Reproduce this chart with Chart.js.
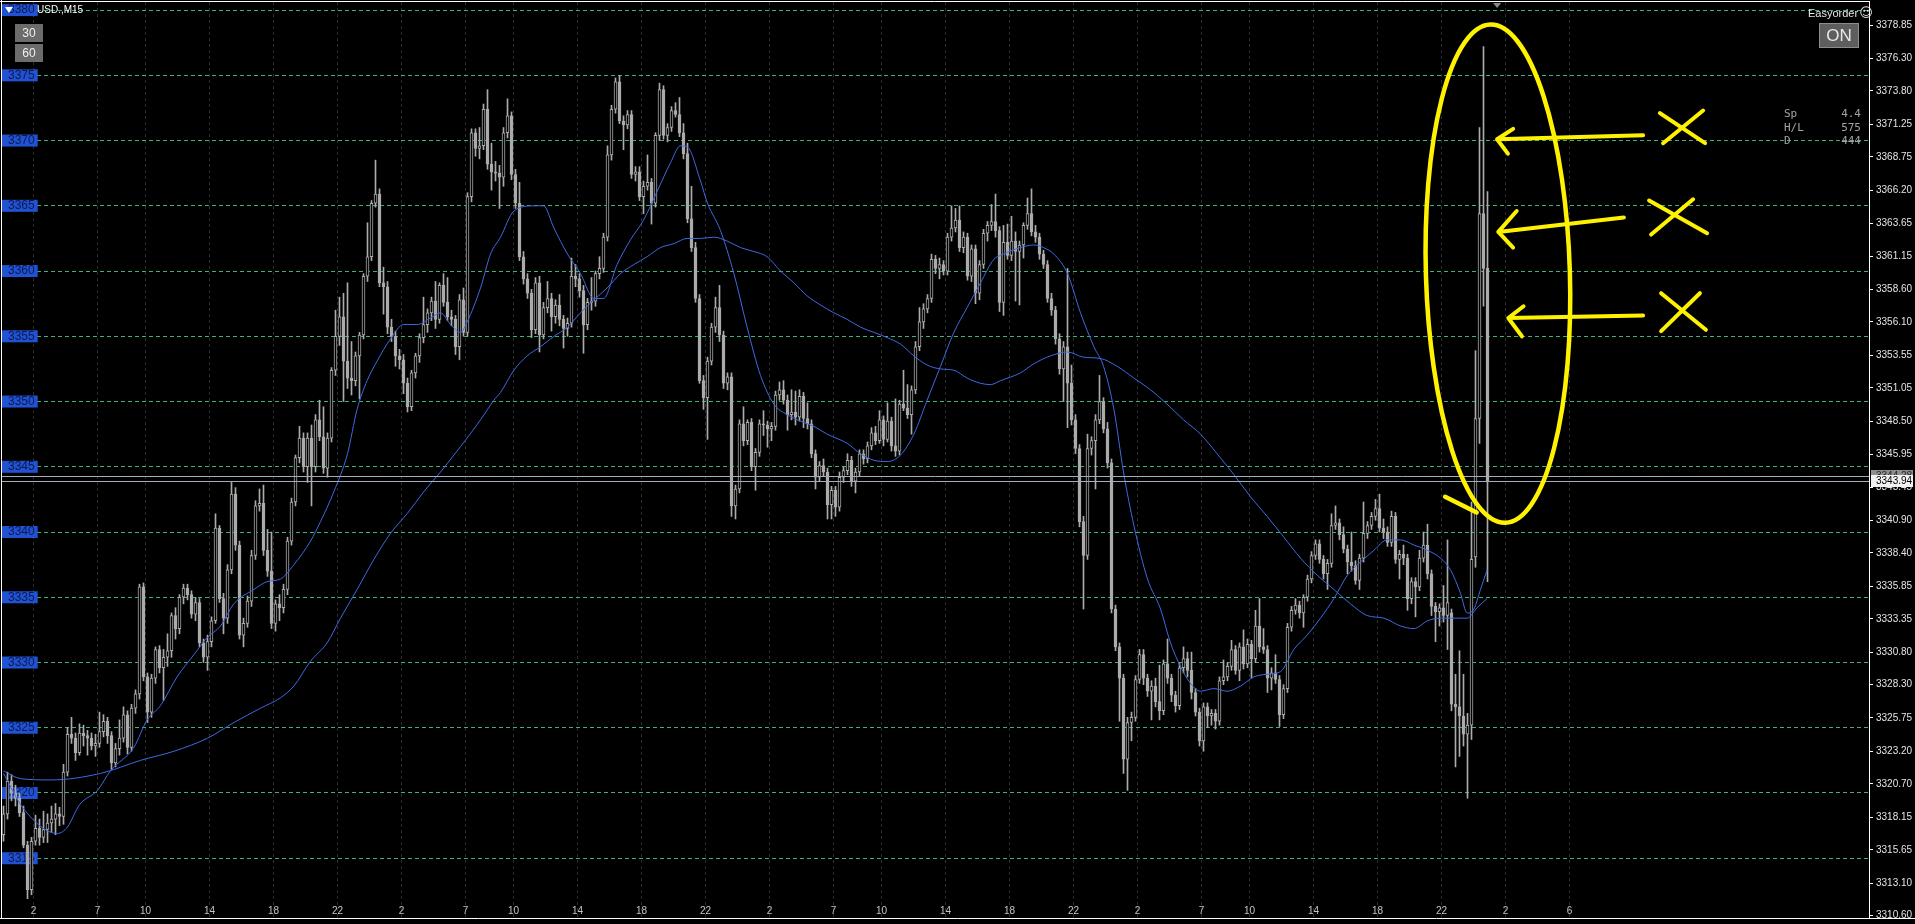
<!DOCTYPE html>
<html>
<head>
<meta charset="utf-8">
<script src="https://cdn.jsdelivr.net/npm/chart.js@4.4.1/dist/chart.umd.min.js"></script>
<style>
  html, body { margin: 0; padding: 0; background: #000; overflow: hidden; }
  #wrap { position: relative; width: 1915px; height: 924px; }
  #wrap canvas { position: absolute; left: 0; top: 0; }
  .txt { position: absolute; font-family: 'Liberation Sans', Arial, sans-serif; white-space: nowrap; }
  .btn { position: absolute; width: 28px; height: 18px; background: #6c6c6c; color: #f0f0f0;
         font: 12px 'Liberation Sans', Arial, sans-serif; line-height: 18px; text-align: center; }
  .on { position: absolute; left: 1819px; top: 23px; width: 38px; height: 23px; background: #5e5e5e;
        border: 1px solid #8c8c8c; color: #e8e8e8; font: 17px 'Liberation Sans', Arial, sans-serif;
        line-height: 23px; text-align: center; }
  .info { position: absolute; left: 1784px; top: 107px; width: 77px; color: #a4a4a4;
          font: 11px 'DejaVu Sans Mono', monospace; line-height: 13.5px; }
  .info div { display: flex; justify-content: space-between; }
</style>
</head>
<body>
<div id="wrap">
  <canvas id="chart"></canvas>
  <div class="txt" style="left:37px;top:4px;font-size:10px;color:#fff">USD.,M15</div>
  <div class="btn" style="left:15px;top:24px">30</div>
  <div class="btn" style="left:15px;top:44px">60</div>
  <div class="txt" style="left:1808px;top:5px;font-size:11px;color:#e6e6e6">Easyorder<span style="font-family:'DejaVu Sans';font-size:13px;margin-left:1px">☺</span></div>
  <div class="on">ON</div>
  <div class="info">
    <div><span>Sp</span><span>4.4</span></div>
    <div><span>H/L</span><span>575</span></div>
    <div><span>D</span><span>444</span></div>
  </div>
</div>
<script>
// M15 candles, one entry per bar (bar 0 = leftmost)
const opens = [
  3316.8, 3318.4, 3320.9, 3320.0, 3319.6, 3318.5, 3316.0, 3312.6, 3316.3, 3317.3,
  3316.6, 3317.2, 3317.7, 3318.0, 3318.4, 3318.2, 3321.6, 3324.5, 3324.2, 3323.1,
  3324.6, 3324.4, 3324.2, 3323.6, 3323.8, 3324.7, 3325.5, 3324.4, 3322.3, 3323.4,
  3324.2, 3326.0, 3323.5, 3326.5, 3327.6, 3335.8, 3328.9, 3326.2, 3328.8, 3331.0,
  3329.6, 3330.4, 3330.9, 3333.6, 3332.6, 3335.0, 3335.7, 3335.2, 3333.7, 3334.6,
  3331.5, 3330.4, 3331.6, 3333.2, 3340.3, 3334.9, 3333.4, 3337.1, 3342.9, 3339.0,
  3332.1, 3333.0, 3334.7, 3338.2, 3342.0, 3342.2, 3338.6, 3337.0, 3333.0, 3334.5,
  3334.2, 3335.6, 3339.3, 3342.3, 3345.7, 3347.2, 3345.0, 3347.2, 3345.0, 3348.6,
  3347.3, 3344.9, 3347.2, 3352.4, 3355.0, 3356.5, 3353.1, 3351.8, 3351.6, 3353.5,
  3355.1, 3359.6, 3361.1, 3365.2, 3365.9, 3359.1, 3358.8, 3355.7, 3355.0, 3353.5,
  3353.2, 3351.4, 3349.6, 3352.2, 3353.5, 3354.9, 3355.9, 3356.8, 3357.7, 3356.3,
  3358.9, 3357.6, 3356.5, 3356.3, 3354.2, 3357.8, 3355.3, 3365.7, 3370.6, 3369.4,
  3369.6, 3372.4, 3368.2, 3367.6, 3367.5, 3367.2, 3370.6, 3371.9, 3367.4, 3365.2,
  3361.1, 3359.4, 3358.3, 3355.5, 3359.1, 3355.1, 3357.2, 3357.9, 3356.5, 3357.4,
  3356.3, 3355.6, 3356.0, 3359.6, 3359.4, 3358.5, 3355.9, 3357.6, 3357.7, 3359.8,
  3360.2, 3362.6, 3368.9, 3372.4, 3374.5, 3371.5, 3371.2, 3372.0, 3367.4, 3367.6,
  3365.7, 3366.5, 3366.8, 3365.2, 3370.4, 3373.9, 3370.4, 3371.0, 3372.3, 3372.0,
  3370.6, 3369.0, 3364.0, 3361.8, 3357.9, 3351.6, 3350.3, 3353.1, 3355.7, 3357.2,
  3355.1, 3351.4, 3351.9, 3342.0, 3343.3, 3348.3, 3347.0, 3348.4, 3345.0, 3346.1,
  3348.3, 3348.2, 3347.9, 3348.1, 3350.5, 3350.9, 3350.1, 3349.0, 3349.2, 3348.8,
  3350.4, 3348.7, 3348.3, 3346.0, 3344.2, 3345.1, 3344.6, 3342.1, 3343.2, 3341.9,
  3344.2, 3344.7, 3345.5, 3343.9, 3344.6, 3346.0, 3345.6, 3346.6, 3347.6, 3347.0,
  3348.6, 3347.1, 3348.5, 3346.6, 3346.2, 3349.8, 3349.5, 3349.0, 3350.9, 3354.2,
  3356.1, 3357.1, 3357.9, 3360.9, 3360.2, 3360.5, 3360.0, 3362.6, 3363.3, 3363.9,
  3361.8, 3362.6, 3359.6, 3361.7, 3358.3, 3360.5, 3362.9, 3363.5, 3363.8, 3363.1,
  3357.6, 3362.2, 3361.2, 3362.3, 3361.5, 3362.0, 3363.5, 3364.4, 3363.0, 3362.6,
  3361.3, 3360.5, 3357.9, 3357.0, 3354.8, 3352.5, 3354.2, 3351.4, 3348.6, 3346.4,
  3340.8, 3338.2, 3346.4, 3347.0, 3348.6, 3350.0, 3347.9, 3345.3, 3334.1, 3331.2,
  3328.8, 3322.6, 3325.4, 3325.8, 3328.7, 3330.6, 3328.8, 3327.8, 3328.2, 3327.0,
  3326.3, 3329.9, 3328.8, 3327.5, 3326.7, 3329.6, 3330.3, 3329.4, 3327.7, 3326.2,
  3324.0, 3326.6, 3325.9, 3326.1, 3325.5, 3328.6, 3328.9, 3329.7, 3331.0, 3329.4,
  3331.2, 3329.9, 3331.4, 3330.3, 3332.8, 3331.2, 3331.0, 3328.8, 3329.2, 3328.7,
  3326.0, 3328.0, 3332.7, 3334.0, 3334.4, 3333.8, 3335.0, 3336.4, 3338.2, 3339.1,
  3337.9, 3336.8, 3337.6, 3340.5, 3340.7, 3339.8, 3338.7, 3337.7, 3337.4, 3336.3,
  3338.0, 3339.9, 3340.5, 3341.2, 3341.8, 3340.3, 3340.0, 3339.2, 3341.2, 3337.9,
  3338.3, 3338.0, 3334.9, 3336.2, 3335.8, 3338.0, 3339.0, 3336.8, 3334.3, 3333.9,
  3334.2, 3333.6, 3333.8, 3326.8, 3326.6, 3325.9, 3324.5, 3325.2, 3338.1, 3348.7,
  3364.4, 3360.2
];
const highs = [
  3319.0, 3321.6, 3321.4, 3320.6, 3320.0, 3319.0, 3316.3, 3316.6, 3318.3, 3318.0,
  3318.6, 3318.4, 3319.0, 3319.2, 3318.9, 3322.2, 3325.0, 3325.8, 3324.6, 3325.3,
  3325.2, 3324.8, 3324.6, 3324.5, 3326.2, 3326.0, 3325.8, 3324.7, 3323.8, 3325.6,
  3326.6, 3326.3, 3326.8, 3327.9, 3336.0, 3336.1, 3329.2, 3329.1, 3331.2, 3331.3,
  3331.0, 3332.2, 3333.8, 3334.2, 3335.2, 3336.0, 3336.0, 3335.5, 3335.0, 3334.9,
  3331.8, 3332.1, 3333.5, 3341.4, 3340.5, 3335.3, 3337.5, 3343.8, 3343.4, 3339.3,
  3333.4, 3335.1, 3338.6, 3342.4, 3343.3, 3343.6, 3340.2, 3340.0, 3334.8, 3335.2,
  3336.0, 3339.6, 3342.6, 3345.9, 3348.1, 3347.6, 3347.6, 3348.2, 3349.0, 3350.1,
  3349.6, 3347.6, 3352.6, 3357.0, 3358.0, 3358.3, 3359.1, 3354.6, 3353.8, 3355.3,
  3359.8, 3363.7, 3365.4, 3368.5, 3366.3, 3360.3, 3359.2, 3356.3, 3355.4, 3354.0,
  3353.6, 3351.8, 3352.4, 3353.7, 3355.2, 3358.0, 3357.1, 3358.0, 3359.2, 3359.1,
  3359.8, 3359.5, 3357.0, 3356.6, 3358.2, 3358.7, 3366.0, 3370.9, 3370.9, 3371.0,
  3372.8, 3373.9, 3369.8, 3368.4, 3368.1, 3371.0, 3373.2, 3372.2, 3367.8, 3366.8,
  3361.5, 3359.8, 3358.6, 3359.5, 3359.6, 3357.6, 3359.2, 3358.3, 3357.8, 3358.2,
  3356.6, 3356.4, 3361.0, 3360.5, 3359.8, 3358.9, 3357.9, 3359.5, 3360.0, 3361.1,
  3362.9, 3369.6, 3372.7, 3374.8, 3375.0, 3371.9, 3372.3, 3372.3, 3368.0, 3368.0,
  3366.9, 3368.9, 3367.1, 3370.6, 3374.4, 3374.2, 3371.3, 3372.6, 3372.9, 3373.3,
  3371.3, 3369.8, 3366.5, 3362.2, 3358.2, 3352.0, 3353.4, 3356.0, 3358.0, 3358.9,
  3355.4, 3352.2, 3352.2, 3343.6, 3348.6, 3349.6, 3348.6, 3348.7, 3346.4, 3348.6,
  3349.3, 3348.5, 3348.4, 3350.8, 3351.5, 3351.6, 3350.5, 3350.9, 3350.8, 3350.9,
  3350.7, 3349.9, 3348.6, 3346.3, 3345.4, 3345.6, 3344.9, 3343.5, 3343.5, 3344.6,
  3345.0, 3346.0, 3345.8, 3344.9, 3346.3, 3346.3, 3346.9, 3348.0, 3348.1, 3349.3,
  3348.9, 3349.9, 3348.8, 3350.2, 3350.1, 3352.4, 3351.3, 3351.2, 3354.6, 3357.2,
  3357.5, 3358.2, 3361.3, 3361.2, 3361.0, 3360.8, 3362.9, 3365.0, 3364.8, 3365.0,
  3363.0, 3362.9, 3362.0, 3362.0, 3360.8, 3363.2, 3363.8, 3365.1, 3365.9, 3363.4,
  3363.5, 3363.6, 3364.2, 3363.0, 3362.3, 3363.7, 3365.6, 3366.3, 3363.5, 3362.9,
  3361.6, 3360.8, 3358.3, 3357.3, 3355.2, 3354.6, 3360.2, 3352.8, 3349.0, 3346.7,
  3341.2, 3347.5, 3347.3, 3349.0, 3352.0, 3350.3, 3348.4, 3345.6, 3334.4, 3331.5,
  3329.1, 3325.8, 3326.2, 3329.0, 3331.0, 3331.0, 3329.1, 3328.6, 3328.8, 3329.8,
  3330.2, 3331.8, 3329.1, 3327.8, 3330.0, 3331.2, 3330.8, 3330.8, 3328.0, 3326.5,
  3326.9, 3326.9, 3326.4, 3326.4, 3328.9, 3330.2, 3330.0, 3331.7, 3331.3, 3331.5,
  3332.5, 3331.8, 3331.7, 3334.0, 3334.9, 3332.6, 3331.3, 3329.6, 3330.6, 3329.0,
  3328.3, 3333.0, 3334.3, 3334.9, 3334.7, 3335.2, 3336.7, 3338.5, 3339.4, 3339.4,
  3338.2, 3337.9, 3341.4, 3342.0, 3341.0, 3340.4, 3339.0, 3340.0, 3337.8, 3338.3,
  3342.3, 3340.8, 3341.5, 3342.5, 3342.9, 3341.0, 3340.4, 3341.6, 3341.5, 3338.6,
  3339.0, 3338.3, 3336.5, 3336.5, 3338.6, 3340.0, 3340.6, 3337.1, 3334.6, 3334.5,
  3335.9, 3339.4, 3334.1, 3329.1, 3330.9, 3329.1, 3326.1, 3342.3, 3353.9, 3371.0,
  3377.2, 3366.1
];
const lows = [
  3316.3, 3318.0, 3319.4, 3319.0, 3318.2, 3315.8, 3311.9, 3312.2, 3316.0, 3316.0,
  3316.2, 3316.2, 3317.0, 3316.8, 3317.5, 3317.6, 3321.3, 3323.8, 3322.5, 3322.9,
  3323.6, 3322.9, 3323.3, 3322.8, 3323.5, 3324.3, 3323.8, 3321.8, 3322.0, 3322.9,
  3323.9, 3323.0, 3323.2, 3326.1, 3327.2, 3328.6, 3325.4, 3325.8, 3328.4, 3329.2,
  3327.1, 3329.7, 3330.4, 3331.8, 3332.2, 3334.5, 3334.8, 3333.4, 3333.2, 3331.2,
  3330.0, 3329.4, 3331.2, 3333.0, 3334.6, 3332.2, 3333.0, 3336.8, 3338.6, 3331.8,
  3331.2, 3332.7, 3334.3, 3337.9, 3341.6, 3338.2, 3336.6, 3332.6, 3332.4, 3333.2,
  3333.8, 3335.2, 3339.0, 3342.0, 3345.3, 3344.6, 3343.8, 3342.0, 3344.6, 3347.0,
  3344.5, 3344.2, 3346.9, 3352.0, 3354.3, 3350.0, 3351.0, 3350.5, 3351.2, 3350.2,
  3354.8, 3359.2, 3360.8, 3364.9, 3358.8, 3356.7, 3355.2, 3354.6, 3352.7, 3352.5,
  3350.6, 3349.2, 3349.3, 3351.8, 3353.0, 3354.5, 3355.3, 3356.2, 3355.6, 3356.0,
  3357.3, 3356.2, 3355.8, 3353.6, 3353.2, 3355.0, 3355.0, 3365.3, 3368.8, 3368.6,
  3369.3, 3367.8, 3366.2, 3366.9, 3364.8, 3366.5, 3370.2, 3367.0, 3364.8, 3360.8,
  3359.0, 3357.9, 3354.9, 3355.2, 3353.8, 3354.8, 3356.8, 3355.4, 3356.0, 3355.8,
  3354.1, 3355.0, 3355.7, 3358.8, 3358.0, 3353.7, 3355.5, 3357.0, 3357.3, 3359.4,
  3359.9, 3362.3, 3368.5, 3372.1, 3371.3, 3369.3, 3370.9, 3367.1, 3366.9, 3365.4,
  3364.4, 3366.2, 3363.6, 3364.9, 3370.0, 3370.1, 3369.9, 3370.7, 3371.8, 3370.3,
  3368.6, 3363.7, 3361.5, 3357.6, 3351.4, 3349.4, 3347.1, 3352.8, 3355.3, 3354.6,
  3351.0, 3350.9, 3341.2, 3341.0, 3343.0, 3346.6, 3346.7, 3344.7, 3343.2, 3345.8,
  3347.4, 3346.5, 3347.0, 3347.8, 3350.1, 3349.8, 3347.8, 3348.6, 3348.2, 3348.5,
  3348.0, 3347.9, 3345.7, 3343.3, 3343.9, 3344.3, 3341.0, 3341.0, 3341.2, 3341.6,
  3343.8, 3344.4, 3343.5, 3343.0, 3344.3, 3345.2, 3345.3, 3346.3, 3346.7, 3346.8,
  3346.6, 3346.9, 3346.2, 3345.8, 3345.9, 3349.3, 3348.7, 3347.5, 3350.6, 3353.9,
  3355.6, 3356.8, 3357.6, 3359.8, 3359.4, 3359.7, 3359.7, 3362.3, 3363.0, 3361.5,
  3361.4, 3359.3, 3359.2, 3357.5, 3357.8, 3360.2, 3362.3, 3363.1, 3362.6, 3356.9,
  3356.6, 3360.9, 3360.8, 3357.7, 3357.4, 3361.0, 3363.2, 3362.7, 3362.2, 3360.9,
  3360.2, 3357.6, 3356.6, 3354.4, 3352.1, 3350.0, 3348.0, 3348.2, 3346.0, 3340.4,
  3334.1, 3337.9, 3345.9, 3343.3, 3348.3, 3347.6, 3344.9, 3333.8, 3330.9, 3325.5,
  3321.5, 3320.2, 3324.0, 3325.5, 3328.4, 3328.3, 3327.4, 3325.6, 3326.6, 3325.6,
  3326.0, 3328.4, 3327.0, 3326.2, 3326.4, 3329.2, 3328.9, 3327.2, 3325.9, 3323.6,
  3323.2, 3325.0, 3325.2, 3324.9, 3325.2, 3328.3, 3328.6, 3329.4, 3329.1, 3328.6,
  3329.5, 3329.6, 3328.8, 3330.0, 3330.8, 3330.7, 3327.7, 3327.9, 3328.4, 3325.1,
  3325.7, 3327.7, 3332.4, 3333.7, 3333.4, 3332.7, 3334.7, 3336.1, 3337.9, 3337.6,
  3336.4, 3335.6, 3337.3, 3340.2, 3339.4, 3338.4, 3336.8, 3337.0, 3336.0, 3335.6,
  3337.7, 3339.5, 3340.2, 3340.9, 3340.0, 3339.5, 3338.9, 3338.9, 3337.6, 3336.4,
  3337.5, 3334.0, 3334.5, 3333.5, 3335.5, 3337.7, 3336.4, 3333.6, 3331.6, 3332.8,
  3333.1, 3331.0, 3326.3, 3322.0, 3322.8, 3323.6, 3319.6, 3324.1, 3337.3, 3346.8,
  3357.3, 3336.2
];
const closes = [
  3318.4, 3320.9, 3320.0, 3319.6, 3318.5, 3316.0, 3312.6, 3316.3, 3317.3, 3316.6,
  3317.2, 3317.7, 3318.0, 3318.4, 3318.2, 3321.6, 3324.5, 3324.2, 3323.1, 3324.6,
  3324.4, 3324.2, 3323.6, 3323.8, 3324.7, 3325.5, 3324.4, 3322.3, 3323.4, 3324.2,
  3326.0, 3323.5, 3326.5, 3327.6, 3335.8, 3328.9, 3326.2, 3328.8, 3331.0, 3329.6,
  3330.4, 3330.9, 3333.6, 3332.6, 3335.0, 3335.7, 3335.2, 3333.7, 3334.6, 3331.5,
  3330.4, 3331.6, 3333.2, 3340.3, 3334.9, 3333.4, 3337.1, 3342.9, 3339.0, 3332.1,
  3333.0, 3334.7, 3338.2, 3342.0, 3342.2, 3338.6, 3337.0, 3333.0, 3334.5, 3334.2,
  3335.6, 3339.3, 3342.3, 3345.7, 3347.2, 3345.0, 3347.2, 3345.0, 3348.6, 3347.3,
  3344.9, 3347.2, 3352.4, 3355.0, 3356.5, 3353.1, 3351.8, 3351.6, 3353.5, 3355.1,
  3359.6, 3361.1, 3365.2, 3365.9, 3359.1, 3358.8, 3355.7, 3355.0, 3353.5, 3353.2,
  3351.4, 3349.6, 3352.2, 3353.5, 3354.9, 3355.9, 3356.8, 3357.7, 3356.3, 3358.9,
  3357.6, 3356.5, 3356.3, 3354.2, 3357.8, 3355.3, 3365.7, 3370.6, 3369.4, 3369.6,
  3372.4, 3368.2, 3367.6, 3367.5, 3367.2, 3370.6, 3371.9, 3367.4, 3365.2, 3361.1,
  3359.4, 3358.3, 3355.5, 3359.1, 3355.1, 3357.2, 3357.9, 3356.5, 3357.4, 3356.3,
  3355.6, 3356.0, 3359.6, 3359.4, 3358.5, 3355.9, 3357.6, 3357.7, 3359.8, 3360.2,
  3362.6, 3368.9, 3372.4, 3374.5, 3371.5, 3371.2, 3372.0, 3367.4, 3367.6, 3365.7,
  3366.5, 3366.8, 3365.2, 3370.4, 3373.9, 3370.4, 3371.0, 3372.3, 3372.0, 3370.6,
  3369.0, 3364.0, 3361.8, 3357.9, 3351.6, 3350.3, 3353.1, 3355.7, 3357.2, 3355.1,
  3351.4, 3351.9, 3342.0, 3343.3, 3348.3, 3347.0, 3348.4, 3345.0, 3346.1, 3348.3,
  3348.2, 3347.9, 3348.1, 3350.5, 3350.9, 3350.1, 3349.0, 3349.2, 3348.8, 3350.4,
  3348.7, 3348.3, 3346.0, 3344.2, 3345.1, 3344.6, 3342.1, 3343.2, 3341.9, 3344.2,
  3344.7, 3345.5, 3343.9, 3344.6, 3346.0, 3345.6, 3346.6, 3347.6, 3347.0, 3348.6,
  3347.1, 3348.5, 3346.6, 3346.2, 3349.8, 3349.5, 3349.0, 3350.9, 3354.2, 3356.1,
  3357.1, 3357.9, 3360.9, 3360.2, 3360.5, 3360.0, 3362.6, 3363.3, 3363.9, 3361.8,
  3362.6, 3359.6, 3361.7, 3358.3, 3360.5, 3362.9, 3363.5, 3363.8, 3363.1, 3357.6,
  3362.2, 3361.2, 3362.3, 3361.5, 3362.0, 3363.5, 3364.4, 3363.0, 3362.6, 3361.3,
  3360.5, 3357.9, 3357.0, 3354.8, 3352.5, 3354.2, 3351.4, 3348.6, 3346.4, 3340.8,
  3338.2, 3346.4, 3347.0, 3348.6, 3350.0, 3347.9, 3345.3, 3334.1, 3331.2, 3328.8,
  3322.6, 3325.4, 3325.8, 3328.7, 3330.6, 3328.8, 3327.8, 3328.2, 3327.0, 3326.3,
  3329.9, 3328.8, 3327.5, 3326.7, 3329.6, 3330.3, 3329.4, 3327.7, 3326.2, 3324.0,
  3326.6, 3325.9, 3326.1, 3325.5, 3328.6, 3328.9, 3329.7, 3331.0, 3329.4, 3331.2,
  3329.9, 3331.4, 3330.3, 3332.8, 3331.2, 3331.0, 3328.8, 3329.2, 3328.7, 3326.0,
  3328.0, 3332.7, 3334.0, 3334.4, 3333.8, 3335.0, 3336.4, 3338.2, 3339.1, 3337.9,
  3336.8, 3337.6, 3340.5, 3340.7, 3339.8, 3338.7, 3337.7, 3337.4, 3336.3, 3338.0,
  3339.9, 3340.5, 3341.2, 3341.8, 3340.3, 3340.0, 3339.2, 3341.2, 3337.9, 3338.3,
  3338.0, 3334.9, 3336.2, 3335.8, 3338.0, 3339.0, 3336.8, 3334.3, 3333.9, 3334.2,
  3333.6, 3334.6, 3326.8, 3326.6, 3325.9, 3324.5, 3325.2, 3337.9, 3348.7, 3364.4,
  3360.2, 3343.94
];

// two moving averages (bar position, value)
const fastMaBars = [0, 5, 13.5, 16, 19, 23.5, 26.75, 32.6, 35.9, 39.25, 43.4, 47.6, 50.9, 54.25, 57.6,
  62.6, 65.9, 69.25, 72.6, 76.75, 79.25, 82.6, 86, 88.4, 90.9, 93.4, 96.75, 100, 103.4, 106.75,
  109.25, 111.75, 114.25, 115.9, 119.25, 121.75, 124.25, 127.6, 132.6, 135, 137.6, 141, 144.25,
  147.6, 150, 153.4, 156.75, 160, 163.4, 166.75, 169.25, 171, 174.25, 176, 179.25, 182.6, 185.9,
  189.25, 192.6, 195.9, 199.25, 202.6, 205.9, 210.9, 214.25, 217.6, 220.9, 224.25, 227.6, 230.9,
  234.25, 237.6, 240.9, 244.25, 247.6, 249.25, 254.25, 257.6, 260, 262.6, 266, 269.25, 272.6, 275,
  277.6, 280, 282.6, 286, 289.25, 291.75, 294.25, 296.75, 299.25, 302.6, 305.9, 309.25, 312.6,
  315.9, 319.25, 322.6, 325.9, 329.25, 332.6, 336, 339.25, 342.6, 345.9, 349.25, 352.6, 356,
  359.25, 361.75, 364.25, 365.9, 367.6, 369.25, 370.9];
const fastMaValues = [3321.5, 3318.8, 3316.9, 3317.4, 3319.1, 3320.2, 3321.7, 3323.5, 3325.6, 3326.7,
  3328.9, 3330.6, 3331.9, 3332.8, 3334.5, 3335.6, 3336.2, 3336.4, 3337.5, 3339.3, 3340.8, 3343.1,
  3346.0, 3349.4, 3351.6, 3353.1, 3354.8, 3355.9, 3355.9, 3356.4, 3356.8, 3355.9, 3355.3, 3356.1,
  3358.7, 3361.3, 3362.6, 3364.6, 3365.0, 3365.0, 3363.3, 3361.3, 3359.8, 3357.9, 3357.9, 3360.5,
  3362.4, 3363.9, 3366.1, 3368.3, 3369.6, 3369.5, 3366.9, 3365.2, 3363.1, 3359.8, 3355.7, 3352.0,
  3349.8, 3349.0, 3348.5, 3348.1, 3347.5, 3346.8, 3346.0, 3345.5, 3345.4, 3345.9, 3347.5, 3350.1,
  3352.7, 3355.3, 3357.2, 3359.1, 3360.9, 3361.2, 3361.8, 3362.0, 3361.8, 3361.3, 3359.8, 3356.8,
  3354.2, 3352.7, 3349.4, 3344.6, 3340.5, 3336.4, 3334.1, 3331.5, 3329.7, 3328.4, 3327.8, 3328.0,
  3327.8, 3328.2, 3328.9, 3329.1, 3329.3, 3331.0, 3332.1, 3333.4, 3334.9, 3336.7, 3337.7, 3338.6,
  3339.4, 3339.4, 3339.0, 3338.6, 3338.0, 3337.1, 3335.3, 3333.8, 3334.1, 3335.6, 3337.1];
const slowMaBars = [0, 4.25, 11.75, 24.25, 34.25, 42.6, 51, 57.6, 64.25, 69.25, 72.6, 76.75, 80.9,
  84.25, 88.4, 92.6, 96.75, 100.9, 105.1, 109.25, 112.6, 115.9, 119.25, 122.6, 124.25, 127.6,
  130.9, 134.25, 137.6, 141, 144.25, 147.6, 150.9, 154.25, 157.6, 160.9, 164.25, 167.6, 170.9,
  174.25, 177.6, 180.9, 184.25, 187.6, 190.9, 194.25, 197.6, 200.9, 204.25, 207.6, 210.9, 214.25,
  217.6, 220.9, 224.25, 227.6, 230.9, 234.25, 237.6, 240.9, 244.25, 246.75, 249.25, 254.25, 257.6,
  261.75, 266, 270, 274.25, 278.4, 282.6, 286.75, 290.9, 295, 299.25, 303.4, 307.6, 311.75, 315.9,
  320.1, 324.25, 328.4, 332.6, 336.75, 340.9, 345.1, 349.25, 352.6, 356, 359.25, 362.6, 365.9,
  368.4, 370.9];
const slowMaValues = [3321.7, 3321.1, 3321.0, 3321.5, 3322.5, 3323.2, 3324.2, 3325.4, 3326.5, 3327.3,
  3328.2, 3330.1, 3331.5, 3333.4, 3335.6, 3337.9, 3339.9, 3341.4, 3343.1, 3344.6, 3345.9, 3347.2,
  3348.6, 3350.1, 3350.7, 3352.4, 3353.5, 3354.2, 3355.0, 3355.7, 3356.8, 3357.8, 3358.7, 3359.8,
  3360.5, 3361.1, 3361.8, 3362.1, 3362.5, 3362.5, 3362.6, 3362.3, 3361.8, 3361.5, 3361.1, 3360.0,
  3359.1, 3358.1, 3357.4, 3356.8, 3356.3, 3355.7, 3355.3, 3354.9, 3354.4, 3353.5, 3352.8, 3352.5,
  3352.4, 3351.8, 3351.4, 3351.3, 3351.6, 3352.2, 3352.9, 3353.5, 3353.8, 3353.4, 3353.3, 3352.7,
  3351.8, 3350.9, 3349.8, 3348.6, 3347.5, 3346.0, 3344.4, 3342.7, 3341.2, 3339.6, 3338.0, 3336.7,
  3335.6, 3334.5, 3333.6, 3333.4, 3332.8, 3332.6, 3333.2, 3333.4, 3333.4, 3333.4, 3334.2, 3334.9];

// axis content
const timeTickBars = [8, 24, 36, 52, 68, 84, 100, 116, 128, 144, 160, 176, 192, 208, 220, 236, 252,
  268, 284, 300, 312, 328, 344, 360, 376, 392];
const timeTickLabels = ['2', '7', '10', '14', '18', '22', '2', '7', '10', '14', '18', '22', '2', '7',
  '10', '14', '18', '22', '2', '7', '10', '14', '18', '22', '2', '6'];
const priceTicks = [3378.85, 3376.30, 3373.80, 3371.25, 3368.75, 3366.20, 3363.65, 3361.15, 3358.60,
  3356.10, 3353.55, 3351.05, 3348.50, 3345.95, 3343.45, 3340.90, 3338.40, 3335.85, 3333.35, 3330.80,
  3328.30, 3325.75, 3323.20, 3320.70, 3318.15, 3315.65, 3313.10, 3310.60];
const levelPrices = [3315, 3320, 3325, 3330, 3335, 3340, 3345, 3350, 3355, 3360, 3365, 3370, 3375, 3380];
const quotePrices = [3344.28, 3343.94];
const shiftBar = 373.4;

// hand drawn yellow marks, in (bar, price)
const inkEllipse = { bar: 373.6, price: 3359.8, halfBars: 18, halfPrice: 19.1 };
const inkTail = [[360.4, 3342.7], [368.3, 3341.5]];
const inkArrows = [
  { tail: [409.9, 3370.4], tip: [373.4, 3370.1], wings: [[377.4, 3370.9], [376.1, 3369.0]] },
  { tail: [405.1, 3364.1], tip: [373.7, 3363.0], wings: [[378.3, 3364.6], [377.4, 3361.8]] },
  { tail: [409.9, 3356.6], tip: [376.2, 3356.4], wings: [[380.0, 3357.3], [379.6, 3355.0]] }
];
const inkCrosses = [
  [[414.1, 3372.1], [425.4, 3369.8], [414.9, 3369.8], [424.9, 3372.3]],
  [[411.4, 3365.4], [425.9, 3362.9], [411.9, 3362.8], [422.4, 3365.5]],
  [[414.4, 3358.3], [425.6, 3355.5], [414.4, 3355.4], [424.1, 3358.3]]
];

const candleGray = '#ababab';
const maBlue = '#4169e1';
const yMin = 3310.42;
const yMax = 3380.62;

Chart.defaults.font.family = "'Liberation Sans', Arial, sans-serif";

const bodies = opens.map((o, i) => ({ x: i, y: [o, closes[i]] }));
const wicks = lows.map((l, i) => ({ x: i, y: [l, highs[i]] }));

const marksPlugin = {
  id: 'marks',
  afterDatasetsDraw(chart) {
    const { ctx, chartArea: a, scales: { y } } = chart;
    ctx.save();
    ctx.lineWidth = 1;
    ctx.strokeStyle = '#a3adb8';
    quotePrices.forEach(q => {
      const py = Math.round(y.getPixelForValue(q)) + 0.5;
      ctx.beginPath();
      ctx.moveTo(a.left, py);
      ctx.lineTo(a.right, py);
      ctx.stroke();
    });
    ctx.restore();
  },
  afterDraw(chart) {
    const { ctx, chartArea: a, scales: { x, y } } = chart;
    const px = b => x.getPixelForValue(b);
    const py = p => y.getPixelForValue(p);
    ctx.save();

    // frame
    ctx.strokeStyle = '#ffffff';
    ctx.lineWidth = 1;
    ctx.beginPath();
    ctx.moveTo(a.left - 0.5, 0); ctx.lineTo(a.left - 0.5, a.bottom + 1);
    ctx.moveTo(0, a.top - 0.5); ctx.lineTo(a.right + 0.5, a.top - 0.5);
    ctx.moveTo(a.right + 0.5, a.top - 1); ctx.lineTo(a.right + 0.5, a.bottom + 1);
    ctx.moveTo(0, a.bottom + 0.5); ctx.lineTo(chart.width, a.bottom + 0.5);
    ctx.stroke();

    // bid / ask boxes on the price scale
    ctx.font = "10px 'Liberation Sans', Arial, sans-serif";
    ctx.textBaseline = 'middle';
    ctx.textAlign = 'left';
    const boxFill = ['#8e8e8e', '#f2f2f2'];
    const boxText = ['#262626', '#000000'];
    quotePrices.forEach((q, k) => {
      const cy = y.getPixelForValue(q);
      ctx.fillStyle = boxFill[k];
      ctx.fillRect(a.right + 2, Math.round(cy - 6), 42, 12);
      ctx.fillStyle = boxText[k];
      ctx.fillText(q.toFixed(2), a.right + 7, cy + 0.5);
    });

    // one-click arrow on the top label, chart-shift marker
    const ty = py(3380);
    ctx.fillStyle = '#ffffff';
    ctx.beginPath();
    ctx.moveTo(a.left + 3, ty - 3); ctx.lineTo(a.left + 11, ty - 3); ctx.lineTo(a.left + 7, ty + 3);
    ctx.closePath(); ctx.fill();
    const sx = px(shiftBar);
    ctx.fillStyle = '#8a8a8a';
    ctx.beginPath();
    ctx.moveTo(sx - 4, a.top + 1); ctx.lineTo(sx + 4, a.top + 1); ctx.lineTo(sx, a.top + 6);
    ctx.closePath(); ctx.fill();

    // yellow ink
    ctx.strokeStyle = '#fff200';
    ctx.lineWidth = 4.5;
    ctx.lineCap = 'round';
    ctx.lineJoin = 'round';
    const cx = px(inkEllipse.bar), cy = py(inkEllipse.price);
    const rx = px(inkEllipse.bar + inkEllipse.halfBars) - cx;
    const ry = py(inkEllipse.price - inkEllipse.halfPrice) - cy;
    ctx.beginPath();
    ctx.ellipse(cx, cy, rx, ry, -0.03, 0, Math.PI * 2);
    ctx.stroke();
    ctx.beginPath();
    ctx.moveTo(px(inkTail[0][0]), py(inkTail[0][1]));
    ctx.lineTo(px(inkTail[1][0]), py(inkTail[1][1]));
    ctx.stroke();
    ctx.lineWidth = 4;
    inkArrows.forEach(ar => {
      ctx.beginPath();
      ctx.moveTo(px(ar.tail[0]), py(ar.tail[1]));
      ctx.lineTo(px(ar.tip[0]), py(ar.tip[1]));
      ctx.moveTo(px(ar.wings[0][0]), py(ar.wings[0][1]));
      ctx.lineTo(px(ar.tip[0]), py(ar.tip[1]));
      ctx.lineTo(px(ar.wings[1][0]), py(ar.wings[1][1]));
      ctx.stroke();
    });
    inkCrosses.forEach(c => {
      ctx.beginPath();
      ctx.moveTo(px(c[0][0]), py(c[0][1])); ctx.lineTo(px(c[1][0]), py(c[1][1]));
      ctx.moveTo(px(c[2][0]), py(c[2][1])); ctx.lineTo(px(c[3][0]), py(c[3][1]));
      ctx.stroke();
    });
    ctx.restore();
  }
};

new Chart(document.getElementById('chart'), {
  type: 'bar',
  data: {
    datasets: [
      {
        label: 'body',
        data: bodies,
        backgroundColor: c => closes[c.dataIndex] >= opens[c.dataIndex] ? '#000000' : candleGray,
        borderColor: candleGray,
        borderWidth: 1,
        borderSkipped: false,
        barThickness: 3,
        minBarLength: 1,
        grouped: false,
        order: 1
      },
      {
        label: 'wick',
        data: wicks,
        backgroundColor: candleGray,
        borderWidth: 0,
        barThickness: 1,
        grouped: false,
        order: 2
      },
      {
        type: 'line',
        label: 'fast',
        data: fastMaBars.map((b, k) => ({ x: b, y: fastMaValues[k] })),
        borderColor: maBlue,
        borderWidth: 1,
        pointRadius: 0,
        cubicInterpolationMode: 'monotone',
        fill: false,
        order: 0
      },
      {
        type: 'line',
        label: 'slow',
        data: slowMaBars.map((b, k) => ({ x: b, y: slowMaValues[k] })),
        borderColor: maBlue,
        borderWidth: 1,
        pointRadius: 0,
        cubicInterpolationMode: 'monotone',
        fill: false,
        order: 0
      }
    ]
  },
  options: {
    responsive: true,
    maintainAspectRatio: false,
    animation: false,
    events: [],
    layout: { padding: { top: 2, left: 0, right: 0, bottom: 0 } },
    plugins: { legend: { display: false }, tooltip: { enabled: false } },
    scales: {
      x: {
        type: 'linear',
        min: -0.375,
        max: 466.375,
        offset: false,
        afterBuildTicks: s => { s.ticks = timeTickBars.map(b => ({ value: b - 0.5 })); },
        afterFit: s => { s.height = 6; s.paddingLeft = 0; s.paddingRight = 0; },
        grid: { color: '#2c2c2c', lineWidth: 1, drawTicks: false, offset: false },
        border: { display: false, dash: [3, 3] },
        ticks: {
          mirror: true,
          color: '#c4c4c4',
          font: { size: 10 },
          padding: 1,
          maxRotation: 0,
          autoSkip: false,
          callback: (v, i) => timeTickLabels[i]
        }
      },
      y: {
        type: 'linear',
        position: 'right',
        min: yMin,
        max: yMax,
        afterBuildTicks: s => { s.ticks = priceTicks.map(v => ({ value: v })); },
        afterFit: s => { s.width = 46; s.paddingTop = 0; s.paddingBottom = 0; },
        grid: { drawOnChartArea: false, drawTicks: true, tickLength: 4, color: '#ffffff' },
        border: { display: false },
        ticks: {
          color: '#e4e4e4',
          font: { size: 10 },
          padding: 3,
          autoSkip: false,
          callback: v => v.toFixed(2)
        }
      },
      levels: {
        type: 'linear',
        position: 'left',
        min: yMin,
        max: yMax,
        afterBuildTicks: s => { s.ticks = levelPrices.map(v => ({ value: v })); },
        afterFit: s => { s.width = 2; s.paddingTop = 0; s.paddingBottom = 0; },
        grid: { color: '#3cb371', lineWidth: 1, drawTicks: false },
        border: { display: false, dash: [4, 3] },
        ticks: {
          mirror: true,
          padding: 6,
          autoSkip: false,
          color: '#0c1a4c',
          font: { size: 12, lineHeight: 1 },
          showLabelBackdrop: true,
          backdropColor: '#2152d4',
          backdropPadding: { left: 6, right: 3, top: 0, bottom: 0 },
          callback: v => String(v)
        }
      }
    }
  },
  plugins: [marksPlugin]
});
</script>
</body>
</html>
